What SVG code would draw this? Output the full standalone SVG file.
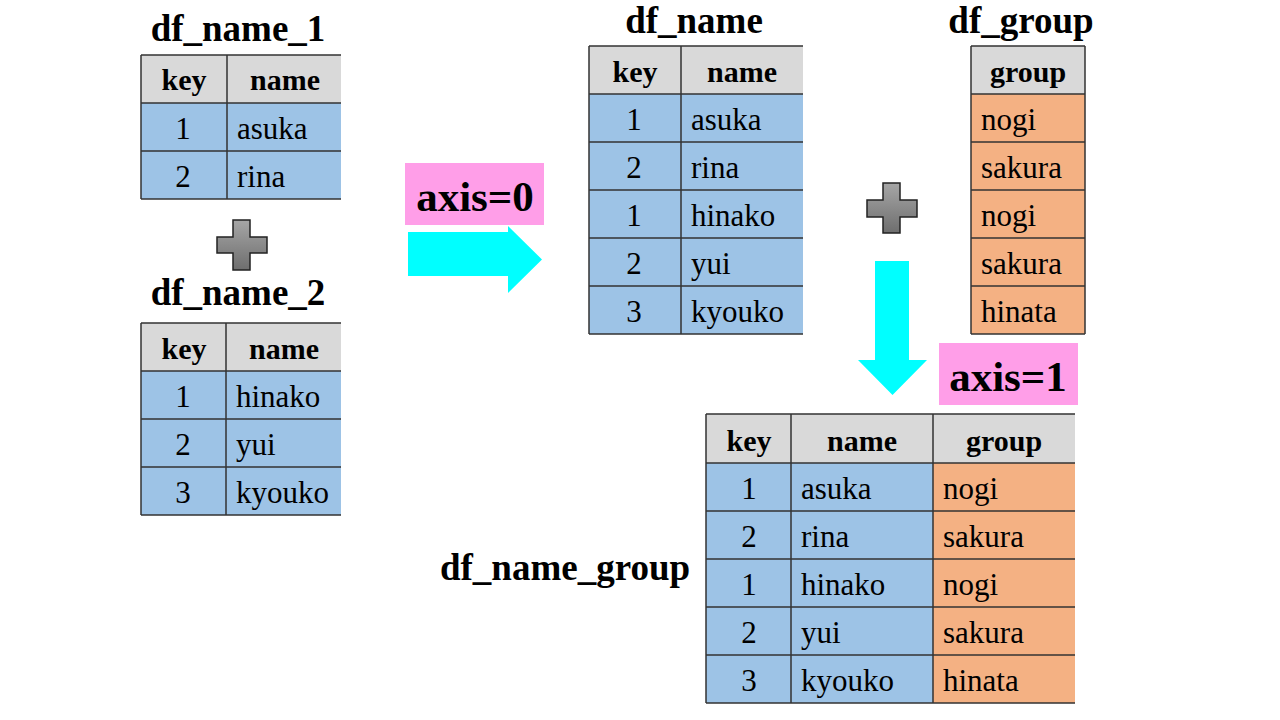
<svg xmlns="http://www.w3.org/2000/svg" width="1280" height="720" viewBox="0 0 1280 720">
<defs>
<linearGradient id="pg" x1="0" y1="0" x2="0" y2="1">
<stop offset="0" stop-color="#a6a6a6"/><stop offset="1" stop-color="#6e6e6e"/>
</linearGradient>
<style>
.t{font-family:"Liberation Serif","Times New Roman",serif;font-weight:bold;font-size:37px;fill:#000;text-anchor:middle}
.h{font-family:"Liberation Serif","Times New Roman",serif;font-weight:bold;font-size:30px;fill:#000;text-anchor:middle}
.c{font-family:"Liberation Serif","Times New Roman",serif;font-size:31px;fill:#000;text-anchor:middle}
.l{font-family:"Liberation Serif","Times New Roman",serif;font-size:31px;fill:#000}
.ax{font-family:"Liberation Serif","Times New Roman",serif;font-weight:bold;font-size:43px;fill:#000;text-anchor:middle}
.hd{fill:#d9d9d9}
.bl{fill:#9dc3e6}
.or{fill:#f4b183}
.ln{stroke:#333;stroke-width:1.5;fill:none}
.pl{fill:url(#pg);stroke:#222;stroke-width:1.5}
.ar{fill:#00ffff}
.pk{fill:#ff9ee8}
</style>
</defs>
<rect width="1280" height="720" fill="#fff"/>

<g id="df_name_1">
<text class="t" x="238" y="41">df_name_1</text>
<rect class="hd" x="141" y="55" width="200" height="48"/>
<rect class="bl" x="141" y="103" width="200" height="96"/>
<path class="ln" d="M141 55H341M141 103H341M141 151H341M141 199H341M141 55V199M227 55V199"/>
<text class="h" x="184" y="90">key</text><text class="h" x="285" y="90">name</text>
<text class="c" x="183" y="139">1</text><text class="l" x="237" y="139">asuka</text>
<text class="c" x="183" y="187">2</text><text class="l" x="237" y="187">rina</text>
</g>

<g id="plus1"><path class="pl" d="M233 220H250V237H267V253H250V270H233V253H217V237H233Z"/></g>

<g id="df_name_2">
<text class="t" x="238" y="305">df_name_2</text>
<rect class="hd" x="141" y="323" width="200" height="48"/>
<rect class="bl" x="141" y="371" width="200" height="144"/>
<path class="ln" d="M141 323H341M141 371H341M141 419H341M141 467H341M141 515H341M141 323V515M226 323V515"/>
<text class="h" x="184" y="359">key</text><text class="h" x="284" y="359">name</text>
<text class="c" x="183" y="407">1</text><text class="l" x="236" y="407">hinako</text>
<text class="c" x="183" y="455">2</text><text class="l" x="236" y="455">yui</text>
<text class="c" x="183" y="503">3</text><text class="l" x="236" y="503">kyouko</text>
</g>

<g id="axis0">
<rect class="pk" x="405" y="163" width="139" height="62"/>
<text class="ax" x="475" y="211">axis=0</text>
</g>

<g id="df_name">
<text class="t" x="694" y="33">df_name</text>
<rect class="hd" x="589" y="46" width="214" height="48"/>
<rect class="bl" x="589" y="94" width="214" height="240"/>
<path class="ln" d="M589 46H803M589 94H803M589 142H803M589 190H803M589 238H803M589 286H803M589 334H803M589 46V334M681 46V334"/>
<text class="h" x="635" y="82">key</text><text class="h" x="742" y="82">name</text>
<text class="c" x="634" y="130">1</text><text class="l" x="691" y="130">asuka</text>
<text class="c" x="634" y="178">2</text><text class="l" x="691" y="178">rina</text>
<text class="c" x="634" y="226">1</text><text class="l" x="691" y="226">hinako</text>
<text class="c" x="634" y="274">2</text><text class="l" x="691" y="274">yui</text>
<text class="c" x="634" y="322">3</text><text class="l" x="691" y="322">kyouko</text>
</g>

<g id="df_group">
<text class="t" x="1021" y="33">df_group</text>
<rect class="hd" x="971" y="46" width="114" height="48"/>
<rect class="or" x="971" y="94" width="114" height="240"/>
<path class="ln" d="M971 46H1085M971 94H1085M971 142H1085M971 190H1085M971 238H1085M971 286H1085M971 334H1085M971 46V334M1085 46V334"/>
<text class="h" x="1028" y="82">group</text>
<text class="l" x="981" y="130">nogi</text>
<text class="l" x="981" y="178">sakura</text>
<text class="l" x="981" y="226">nogi</text>
<text class="l" x="981" y="274">sakura</text>
<text class="l" x="981" y="322">hinata</text>
</g>

<g id="plus2"><path class="pl" d="M883 183H900V200H917V217H900V233H883V217H867V200H883Z"/></g>

<g id="axis1">
<rect class="pk" x="939" y="343" width="139" height="62"/>
<text class="ax" x="1008" y="391">axis=1</text>
</g>

<g id="df_name_group">
<text class="t" x="565" y="580">df_name_group</text>
<rect class="hd" x="706" y="414" width="369" height="49"/>
<rect class="bl" x="706" y="463" width="227" height="240"/>
<rect class="or" x="933" y="463" width="142" height="240"/>
<path class="ln" d="M706 414H1075M706 463H1075M706 511H1075M706 559H1075M706 607H1075M706 655H1075M706 703H1075M706 414V703M791 414V703M933 414V703"/>
<text class="h" x="749" y="451">key</text><text class="h" x="862" y="451">name</text><text class="h" x="1004" y="451">group</text>
<text class="c" x="749" y="499">1</text><text class="l" x="801" y="499">asuka</text><text class="l" x="943" y="499">nogi</text>
<text class="c" x="749" y="547">2</text><text class="l" x="801" y="547">rina</text><text class="l" x="943" y="547">sakura</text>
<text class="c" x="749" y="595">1</text><text class="l" x="801" y="595">hinako</text><text class="l" x="943" y="595">nogi</text>
<text class="c" x="749" y="643">2</text><text class="l" x="801" y="643">yui</text><text class="l" x="943" y="643">sakura</text>
<text class="c" x="749" y="691">3</text><text class="l" x="801" y="691">kyouko</text><text class="l" x="943" y="691">hinata</text>
</g>

<g id="connectors">
<path class="ar" d="M408 232H508V226L542 259.5L508 293V276H408Z"/>
<path class="ar" d="M875 261H909V360H927L892.5 395L858 360H875Z"/>
</g>
</svg>
